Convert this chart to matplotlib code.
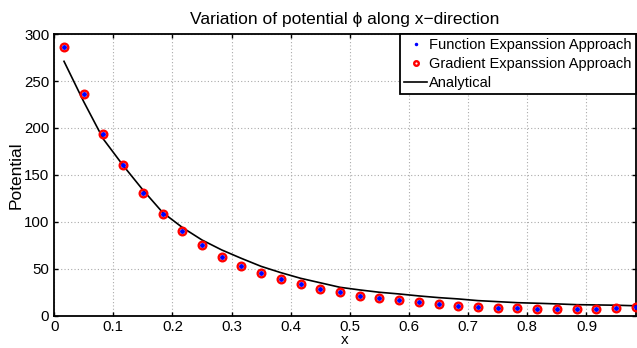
import numpy as np
import matplotlib
matplotlib.use('Agg')
import matplotlib.pyplot as plt

plt.rcParams['font.family'] = ['Liberation Sans', 'DejaVu Sans']

# ── data ─────────────────────────────────────────────────────────
x_pts = [(2 * i + 1) / 60 for i in range(30)]
fea = [286, 236, 194, 160, 131, 108.5, 90, 75, 63, 53.3,
       45, 38.7, 33.4, 28.8, 24.9, 21.3, 18.5, 16.4, 14.2, 12.1,
       10.7, 9.6, 8.5, 7.8, 7.5, 7.1, 7.1, 7.5, 8.2, 9.6]
gea = fea
analytical = [271, 228, 188, 160, 134, 110, 94, 80.6, 70, 61,
              52.5, 45.8, 39.8, 35, 30.2, 27.4, 24.9, 23.1, 21, 19.2,
              17.8, 16, 14.9, 13.8, 13.2, 12.5, 11.7, 11.4, 11.1, 10.5]

fig = plt.figure(figsize=(6.37, 3.48), dpi=100)
ax = fig.add_axes([0.085, 0.093, 0.913, 0.809])

ax.plot(x_pts, fea, '.', color='blue', ms=5, label='Function Expanssion Approach', zorder=3)
ax.plot(x_pts, gea, 'o', mfc='none', mec='red', mew=1.7, ms=5.5,
        label='Gradient Expanssion Approach', zorder=4)
ax.plot(x_pts, analytical, '-', color='black', lw=1.2, label='Analytical', zorder=2)

ax.set_xlim(0, 59 / 60)
ax.set_ylim(0, 300)
ax.set_xticks(np.arange(0, 1.0, 0.1))
ax.set_xticklabels(['0'] + [f'{v:.1f}' for v in np.arange(0.1, 1.0, 0.1)])
ax.set_yticks(range(0, 301, 50))
ax.tick_params(direction='in', top=True, right=True, labelsize=10.8, length=3, width=1)
ax.grid(True, linestyle=(0, (1, 2)), color='#aaaaaa', lw=0.8)
for s in ax.spines.values():
    s.set_linewidth(1.3)

ax.set_title('Variation of potential ϕ along x−direction', fontsize=12.5, pad=7)
ax.set_xlabel('x', fontsize=11, labelpad=-1)
ax.set_ylabel('Potential', fontsize=12.5, labelpad=0)

leg = ax.legend(loc='upper right', fontsize=10.5, fancybox=False, framealpha=1,
                edgecolor='black', borderaxespad=0, handlelength=1.6,
                handletextpad=0.1, labelspacing=0.32, borderpad=0.3,
                markerscale=0.6)
leg.get_frame().set_linewidth(1.3)

fig.savefig('out.png', dpi=100)
